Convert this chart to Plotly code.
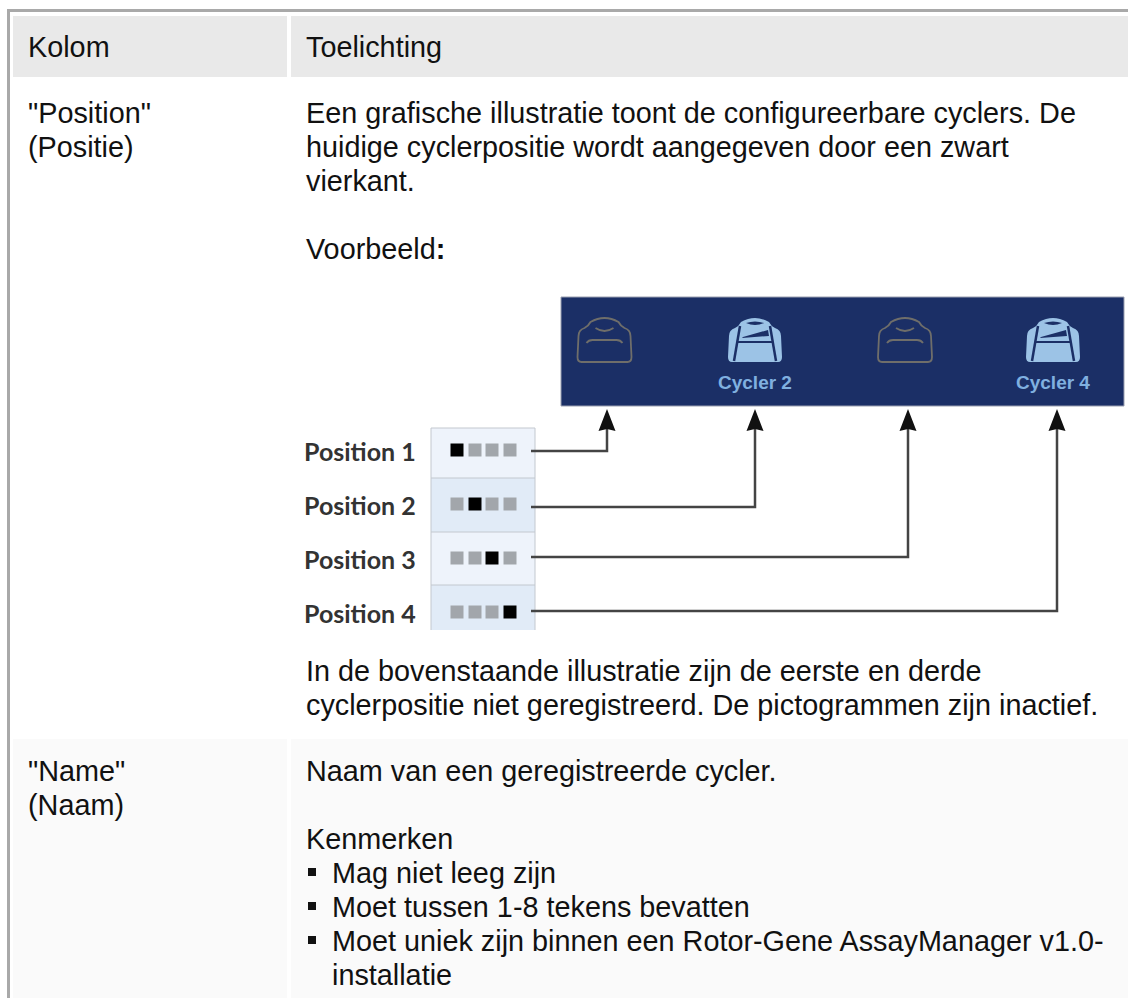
import plotly.graph_objects as go

# ---------- content ----------
header_labels = ["Kolom", "Toelichting"]
position_cell = ['"Position"', "(Positie)"]
position_text = [
    "Een grafische illustratie toont de configureerbare cyclers. De",
    "huidige cyclerpositie wordt aangegeven door een zwart",
    "vierkant.",
]
example_label = "Voorbeeld<b>:</b>"
after_text = [
    "In de bovenstaande illustratie zijn de eerste en derde",
    "cyclerpositie niet geregistreerd. De pictogrammen zijn inactief.",
]
name_cell = ['"Name"', "(Naam)"]
name_text = "Naam van een geregistreerde cycler."
props_label = "Kenmerken"
props = [
    ["Mag niet leeg zijn"],
    ["Moet tussen 1-8 tekens bevatten"],
    ["Moet uniek zijn binnen een Rotor-Gene AssayManager v1.0-", "installatie"],
]
position_labels = ["Position 1", "Position 2", "Position 3", "Position 4"]
cycler_labels = [None, "Cycler 2", None, "Cycler 4"]
registered = [False, True, False, True]

# ---------- layout constants (page pixels) ----------
W, H = 1128, 998
FONT = "Liberation Sans"
FS = 28.8
INK = "#111111"
shapes, ann = [], []


def rect(x0, y0, x1, y1, fill, line=None):
    shapes.append(dict(type="rect", x0=x0, y0=y0, x1=x1, y1=y1, fillcolor=fill, layer="below",
                       line=dict(width=1 if line else 0, color=line or fill)))


def path(d, fill=None, line=None, width=0):
    shapes.append(dict(type="path", path=d, fillcolor=fill or "rgba(0,0,0,0)", layer="above",
                       line=dict(width=width, color=line or "rgba(0,0,0,0)")))


def text(x, y, s, size=FS, color=INK, family=FONT):
    ann.append(dict(x=x, y=y, text=s, showarrow=False, xanchor="left", yanchor="middle",
                    font=dict(family=family, size=size, color=color), borderpad=0, borderwidth=0))


# frame
rect(7, 9, 10, H, "#a9a9a9")
rect(7, 9, W, 12, "#a9a9a9")
# table bands
COL1, COL2 = (13, 287), (291, W)
for c in (COL1, COL2):
    rect(c[0], 16, c[1], 77, "#e9e9e9")
    rect(c[0], 739, c[1], H, "#fafafa")

X1, X2 = 28, 306
text(X1, 47, header_labels[0])
text(X2, 47, header_labels[1])
for i, s in enumerate(position_cell):
    text(X1, 113 + i * 34, s)
for i, s in enumerate(position_text):
    text(X2, 113 + i * 34, s)
text(X2, 249, example_label)
for i, s in enumerate(after_text):
    text(X2, 671 + i * 34, s)
for i, s in enumerate(name_cell):
    text(X1, 771 + i * 34, s)
text(X2, 771, name_text)
text(X2, 839, props_label)
y = 873
bx, by = [], []
for item in props:
    bx.append(312)
    by.append(y - 1)
    for line in item:
        text(332, y, line)
        y += 34

# illustration: navy panel
NAVY = "#1b2f66"
rect(561, 297, 1124, 406, NAVY, "#9a9fb0")
ICON_X = [604.5, 755, 905, 1053]
LIGHT = "#9cc3e6"
GREY = "#6f6e6a"


def outer(cx, top):
    X = lambda v: cx + v
    Y = lambda v: top + v
    return (f"M{X(-23)},{Y(44)} L{X(23)},{Y(44)} Q{X(27)},{Y(44)} {X(27)},{Y(39)} L{X(26)},{Y(18)} "
            f"Q{X(26)},{Y(12)} {X(20)},{Y(10)} Q{X(16)},{Y(8)} {X(14)},{Y(4)} Q{X(7)},{Y(0)} {X(0)},{Y(0)} "
            f"Q{X(-7)},{Y(0)} {X(-14)},{Y(4)} Q{X(-16)},{Y(8)} {X(-20)},{Y(10)} Q{X(-26)},{Y(12)} {X(-26)},{Y(18)} "
            f"L{X(-27)},{Y(39)} Q{X(-27)},{Y(44)} {X(-23)},{Y(44)} Z")


for cx, active, lab in zip(ICON_X, registered, cycler_labels):
    top = 318
    if active:
        path(outer(cx, top), fill=LIGHT)
        path(f"M{cx-15},{top+8} L{cx-21},{top+43}", line=NAVY, width=2.5)
        path(f"M{cx+15},{top+8} L{cx+21},{top+43}", line=NAVY, width=2.5)
        path(f"M{cx-18},{top+24} L{cx+18},{top+24}", line=NAVY, width=2)
        path(f"M{cx-12},{top+19} L{cx+13},{top+12} L{cx+14},{top+18} L{cx-13},{top+20} Z", fill=NAVY)
        path(f"M{cx-9},{top+5} Q{cx},{top+2} {cx+9},{top+5} Q{cx},{top+9} {cx-9},{top+5} Z", fill=NAVY)
        ann.append(dict(x=cx, y=382, text=f"<b>{lab}</b>", showarrow=False, xanchor="center", yanchor="middle",
                        font=dict(family=FONT, size=19, color="#80b0e0")))
    else:
        path(outer(cx, top), line=GREY, width=1.8)
        path(f"M{cx-18},{top+25} Q{cx-16},{top+22} {cx-12},{top+22} L{cx+12},{top+22} Q{cx+16},{top+22} {cx+18},{top+25}",
             line=GREY, width=1.8)
        path(f"M{cx-9},{top+10} Q{cx},{top+16} {cx+9},{top+10}", line=GREY, width=1.8)

# illustration: position table
ROW_EDGES = [428, 478, 532, 585, 630]
ROW_FILL = ["#eef3fb", "#e1ebf7", "#eef3fb", "#e1ebf7"]
ROW_Y = [450, 504, 558, 612]
LINE_Y = [451, 507, 557, 611]
SQ_X = [457, 475, 492, 510]
ARROW_X = [607, 755, 908, 1057]
for i, lab in enumerate(position_labels):
    rect(431, ROW_EDGES[i], 535, ROW_EDGES[i + 1], ROW_FILL[i])
    shapes.append(dict(type="line", x0=431, x1=535, y0=ROW_EDGES[i], y1=ROW_EDGES[i], layer="below",
                       line=dict(color="#c3c8cf", width=1)))
    text(304, ROW_Y[i] + 1, f"<b>{lab}</b>", size=25, color="#333333", family="Lato")
for xv in (431, 535):
    shapes.append(dict(type="line", x0=xv, x1=xv, y0=428, y1=630, layer="below",
                       line=dict(color="#c3c8cf", width=1)))

fig = go.Figure()
gx, gy, kx, ky = [], [], [], []
for r, ry in enumerate(ROW_Y):
    for c, sx in enumerate(SQ_X):
        (kx if r == c else gx).append(sx)
        (ky if r == c else gy).append(ry)
fig.add_trace(go.Scatter(x=gx, y=gy, mode="markers", hoverinfo="skip",
                         marker=dict(symbol="square", size=13, color="#a2a6ab")))
fig.add_trace(go.Scatter(x=kx, y=ky, mode="markers", hoverinfo="skip",
                         marker=dict(symbol="square", size=13, color="#000000")))
for ly, ax in zip(LINE_Y, ARROW_X):
    fig.add_trace(go.Scatter(x=[531, ax, ax], y=[ly, ly, 425], mode="lines", hoverinfo="skip",
                             line=dict(color="#444444", width=2.5)))
    path(f"M{ax},409 L{ax+8.5},431 L{ax},429 L{ax-8.5},431 Z", fill="#111111")
fig.add_trace(go.Scatter(x=bx, y=by, mode="markers", hoverinfo="skip",
                         marker=dict(symbol="square", size=8, color=INK)))

fig.update_layout(
    width=W, height=H, margin=dict(l=0, r=0, t=0, b=0), showlegend=False,
    paper_bgcolor="white", plot_bgcolor="white", shapes=shapes, annotations=ann,
    xaxis=dict(range=[0, W], visible=False, fixedrange=True),
    yaxis=dict(range=[H, 0], visible=False, fixedrange=True),
)
fig.write_html("out.html", config=dict(displayModeBar=False),
               post_script="document.body.style.margin='0';document.documentElement.style.overflow='hidden';")
